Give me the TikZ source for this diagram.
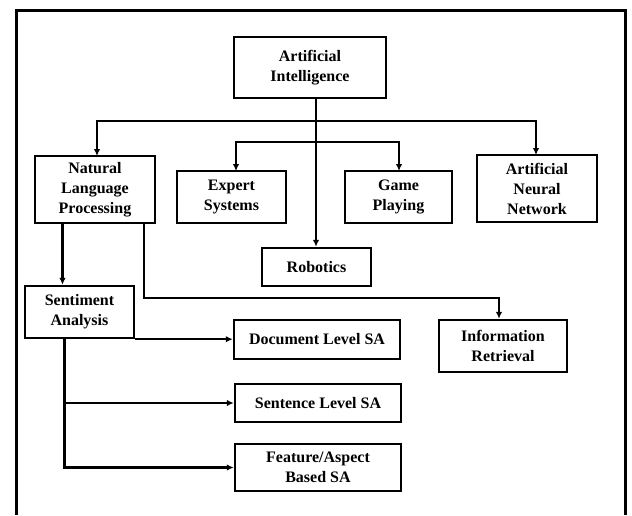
\documentclass[tikz,border=0pt]{standalone}
\usepackage{fontspec}
\setmainfont{Liberation Serif}
\usetikzlibrary{arrows.meta}
\begin{document}
\begin{tikzpicture}[x=1pt,y=-1pt,
  box/.style={draw,line width=2.4pt,inner sep=0pt,align=center,
    font=\fontsize{16}{20}\selectfont\bfseries},
  conn/.style={line width=2.2pt},
  arr/.style={conn,-{Latex[length=7pt,width=6.5pt]}}]
\useasboundingbox (0,0) rectangle (632,515);
\fill[white] (0,0) rectangle (632,515);
% outer frame
\draw[line width=3pt] (16,515) -- (16,10) -- (625,10) -- (625,515);
% boxes
\node[box,minimum width=152pt,minimum height=61pt] (ai) at (310,67.5) {Artificial\\Intelligence};
\node[box,minimum width=120pt,minimum height=67pt] (nlp) at (95,189.5) {Natural\\Language\\Processing};
\node[box,minimum width=109pt,minimum height=52pt] (exp) at (231.5,197) {Expert\\Systems};
\node[box,minimum width=107pt,minimum height=52pt] (game) at (398.5,197) {Game\\Playing};
\node[box,minimum width=120pt,minimum height=67pt] (ann) at (537,188.5) {Artificial\\Neural\\Network};
\node[box,minimum width=109pt,minimum height=38pt] (rob) at (316.5,267) {Robotics};
\node[box,minimum width=109pt,minimum height=52pt] (sa) at (79.5,312) {Sentiment\\Analysis};
\node[box,minimum width=166pt,minimum height=39pt] (doc) at (317,339.5) {Document Level SA};
\node[box,minimum width=128pt,minimum height=52pt] (ir) at (503,346) {Information\\Retrieval};
\node[box,minimum width=166pt,minimum height=38pt] (sen) at (318,403) {Sentence Level SA};
\node[box,minimum width=166pt,minimum height=47pt] (feat) at (318,467.5) {Feature/Aspect\\Based SA};
% coordinates
\coordinate (aib) at (316,98);
\coordinate (h1) at (316,121);
\coordinate (h2) at (316,142);
\coordinate (nlpL) at (62.5,223);
\coordinate (nlpR) at (144,223);
\coordinate (irin) at (499,298);
\coordinate (saB) at (64.5,338);
% connectors
\draw[arr] (aib) -- (aib |- rob.north);
\draw[arr] (h1) -| (97,156);
\draw[arr] (h1) -| (536,155);
\draw[arr] (h2) -| (236,171);
\draw[arr] (h2) -| (399,171);
\draw[arr] (nlpL) -- (nlpL |- sa.north);
\draw[arr] (nlpR) |- (irin) -- (irin |- ir.north);
\draw[arr] (sa.south east) -- (sa.south east -| doc.west);
\draw[arr] (saB) |- (feat.west);
\draw[arr] (saB |- sen.west) -- (sen.west);
\end{tikzpicture}
\end{document}
